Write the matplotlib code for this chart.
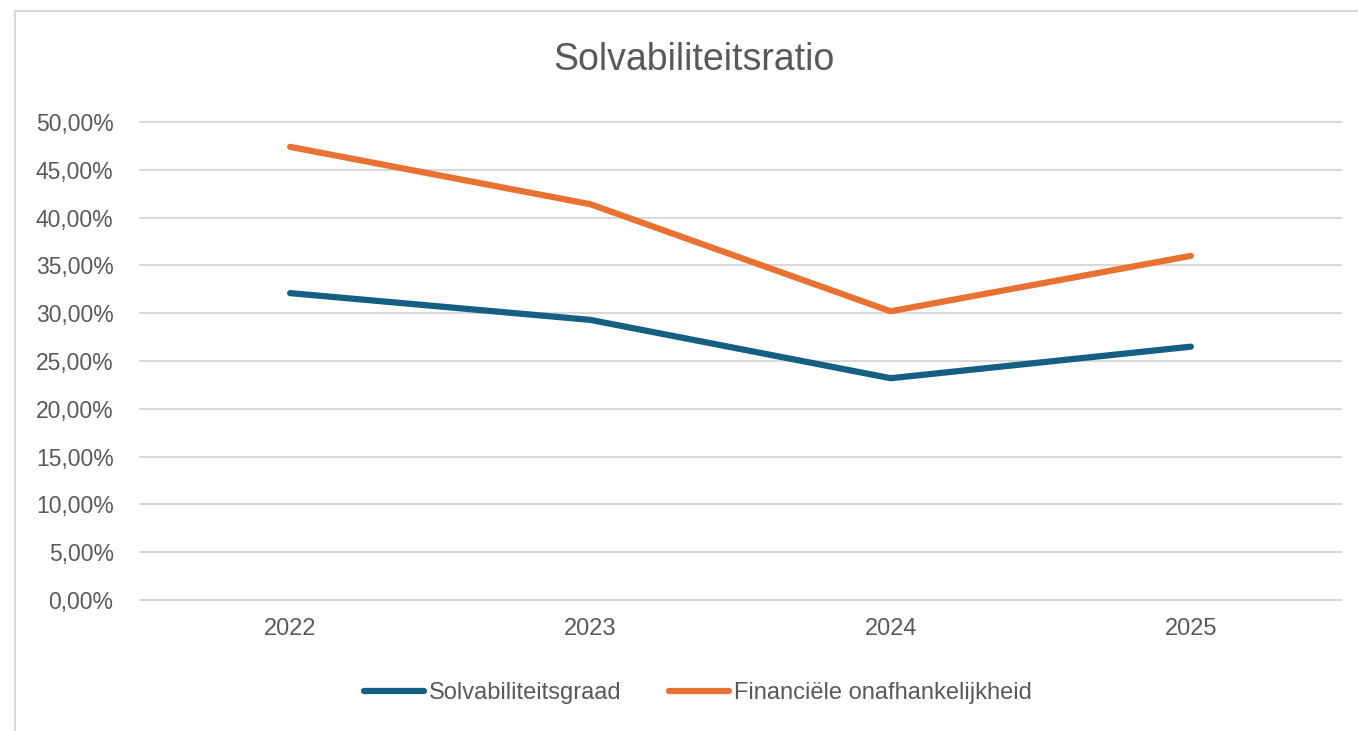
import matplotlib.pyplot as plt
from matplotlib.patches import Rectangle
from matplotlib.ticker import FuncFormatter

jaren = ['2022', '2023', '2024', '2025']
solvabiliteitsgraad = [32.1, 29.3, 23.2, 26.5]
financiele_onafh = [47.4, 41.4, 30.2, 36.0]
yticks = [0, 5, 10, 15, 20, 25, 30, 35, 40, 45, 50]

plt.rcParams['font.family'] = ['Liberation Sans', 'DejaVu Sans']

W, H = 1358, 731
fig = plt.figure(figsize=(W / 100, H / 100), dpi=100)
fig.patch.set_facecolor('white')

# chart frame (cut off at right and bottom)
fig.patches.append(Rectangle((15 / W, -0.1), 1.2, 1 - 11 / H + 0.1,
                             transform=fig.transFigure, fill=False,
                             edgecolor='#d9d9d9', linewidth=1.5))

ax = fig.add_axes([140 / W, 1 - 600 / H, (1341 - 140) / W, (600 - 122) / H])
x = range(len(jaren))
ax.plot(x, solvabiliteitsgraad, color='#156082', lw=4.5, solid_capstyle='round',
        label='Solvabiliteitsgraad')
ax.plot(x, financiele_onafh, color='#E97132', lw=4.5, solid_capstyle='round',
        label='Financiële onafhankelijkheid')

ax.set_xlim(-0.5, len(jaren) - 0.5)
ax.set_ylim(0, 50)
ax.set_yticks(yticks)
ax.yaxis.set_major_formatter(FuncFormatter(lambda v, p: f'{v:.2f}%'.replace('.', ',')))
ax.set_xticks(list(x))
ax.set_xticklabels(jaren)
ax.grid(axis='y', color='#d9d9d9', lw=1.5)
for gl in ax.get_ygridlines():
    gl.set_clip_on(False)
ax.set_axisbelow(True)
for s in ax.spines.values():
    s.set_visible(False)
ax.tick_params(length=0, labelsize=16.5, labelcolor='#595959')
ax.tick_params(axis='y', pad=19)
ax.tick_params(axis='x', labelsize=17, pad=13)

fig.text(694 / W, 1 - 60 / H, 'Solvabiliteitsratio', ha='center', va='center',
         fontsize=27, color='#595959')

leg = fig.legend(loc='center', bbox_to_anchor=(698 / W, 1 - 693 / H), ncol=2,
                 frameon=False, fontsize=17, handlelength=2.55, handletextpad=0.2,
                 columnspacing=2.0)
for t in leg.get_texts():
    t.set_color('#595959')

fig.savefig('out.png', dpi=100, facecolor='white')
